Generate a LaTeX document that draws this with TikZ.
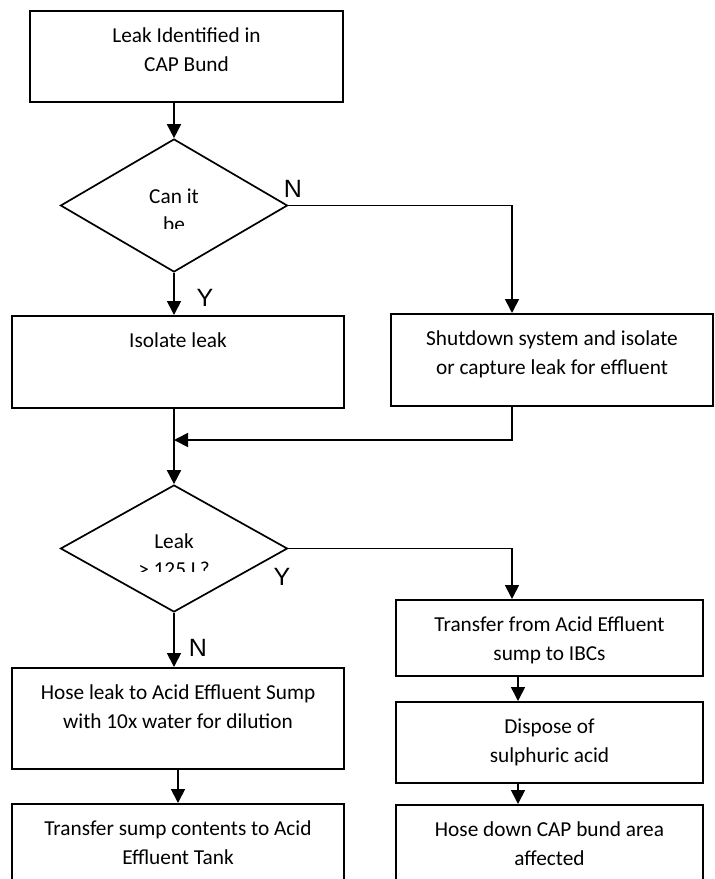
\documentclass[tikz,border=0pt]{standalone}
\usepackage{fontspec}
\setmainfont{Carlito}
\newfontfamily\ynfont{Liberation Sans}
\usepackage{tikz}
\usetikzlibrary{shapes.geometric,arrows.meta,positioning}

\begin{document}
\begin{tikzpicture}[
			x = 1pt, y = -1pt,
			line width = 1.7pt,
			every node/.style = {font = \fontsize{21.3pt}{28.5pt}\selectfont},
			stepbox/.style = {draw, anchor = north, align = flush center, inner xsep = 0pt, inner ysep = 0pt, text height = 32pt},
			decision/.style = {draw, diamond, inner sep = 0pt, minimum width = 227pt},
			question/.style = {anchor = base, align = flush center, text width = 140pt, inner sep = 0pt},
			yn/.style = {font = \ynfont\fontsize{25pt}{30pt}\selectfont, inner sep = 0pt},
			arr/.style = {-{Triangle[width = 14pt, length = 14pt]}}
			]

			\useasboundingbox (0,0) rectangle (715,879);

			% left column
			\node[stepbox, text width = 313pt, text depth = 59pt] (lead) at (186.5,10) {Leak Identified in\\CAP Bund};
			\node[decision, minimum height = 133pt] (dec1) at (174,205.5) {};
			\node[stepbox, text width = 332pt, text depth = 60pt] (isolate) at (178,315) {Isolate leak};
			\node[decision, minimum height = 127pt] (dec2) at (174,548.5) {};
			\node[stepbox, text width = 332pt, text depth = 69pt] (hose) at (178,667) {Hose leak to Acid Effluent Sump\\with 10x water for dilution};
			\node[stepbox, text width = 332pt, text depth = 55pt] (sumptank) at (178,803) {Transfer sump contents to Acid\\Effluent Tank};

			% right column
			\node[stepbox, text width = 322pt, text depth = 60pt] (shutdown) at (552,313) {Shutdown system and isolate\\or capture leak for effluent};
			\node[stepbox, text width = 307pt, text depth = 44pt] (ibc) at (549.5,599) {Transfer from Acid Effluent\\sump to IBCs};
			\node[stepbox, text width = 307pt, text depth = 49pt] (dispose) at (549.5,701) {Dispose of\\sulphuric acid};
			\node[stepbox, text width = 307pt, text depth = 54pt] (hosedown) at (549.5,804) {Hose down CAP bund area\\affected};

			% questions, cut off by the diamond text area
			\begin{scope}
				\clip (95,150) rectangle (255,228);
				\node[question] (q1) at (174,203) {Can it\\be};
			\end{scope}
			\begin{scope}
				\clip (95,490) rectangle (255,571);
				\node[question] (q2) at (174,548) {Leak\\> 125 L?};
			\end{scope}

			\node[yn] (no1) at (293,189) {N};
			\node[yn] (yes1) at (205,298) {Y};
			\node[yn] (yes2) at (282,577) {Y};
			\node[yn] (no2) at (198,648) {N};

			\coordinate (merge) at (174,440);

			\draw[arr] (lead.south -| dec1.north) -- (dec1.north);
			\draw[arr] (dec1.east) -| ([xshift = -40pt]shutdown.north);
			\draw[arr] (dec1.south) -- (dec1.south |- isolate.north);
			\draw[arr] (isolate.south -| dec2.north) -- (dec2.north);
			\draw[arr] ([xshift = -40pt]shutdown.south) |- (merge);
			\draw[arr] (dec2.east) -| ([xshift = -37.5pt]ibc.north);
			\draw[arr] (dec2.south) -- (dec2.south |- hose.north);
			\draw[arr] (hose.south) -- (sumptank.north);
			\draw[arr] ([xshift = -31.5pt]ibc.south) -- ([xshift = -31.5pt]dispose.north);
			\draw[arr] ([xshift = -31.5pt]dispose.south) -- ([xshift = -31.5pt]hosedown.north);

		\end{tikzpicture}
\end{document}
